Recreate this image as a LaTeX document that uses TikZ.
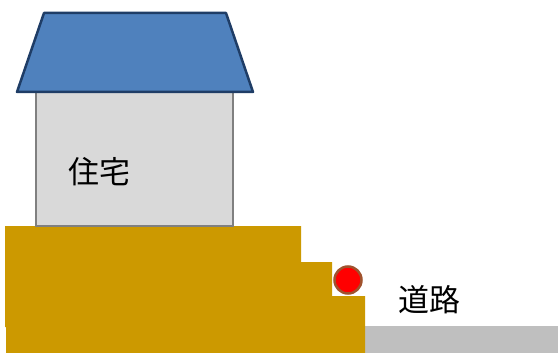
\documentclass[tikz,border=0pt]{standalone}
\usepackage{fontspec}
\newfontfamily\cjk{Noto Sans CJK JP}
\definecolor{roofblue}{HTML}{4F81BD}
\definecolor{roofedge}{HTML}{1F3D66}
\definecolor{wallgray}{HTML}{D9D9D9}
\definecolor{walledge}{HTML}{808080}
\definecolor{earth}{HTML}{CC9900}
\definecolor{roadgray}{HTML}{BFBFBF}
\definecolor{balledge}{HTML}{A0522D}
\tikzset{
  label text/.style={font=\cjk\fontsize{31}{31}\selectfont, text=black, inner sep=0pt},
}
\begin{document}
\begin{tikzpicture}[x=1pt,y=-1pt]
  \useasboundingbox[fill=white] (0,0) rectangle (558,353);
  % road
  \fill[roadgray] (365,326) rectangle (558,353);
  % stepped embankment
  \fill[earth] (5,226) -- (301,226) -- (301,262) -- (332,262) -- (332,296)
    -- (365,296) -- (365,353) -- (6,353) -- (6,327) -- (5,327) -- cycle;
  % house wall
  \draw[fill=wallgray, draw=walledge, line width=2.5pt] (36,92) rectangle (233,226);
  % roof
  \draw[fill=roofblue, draw=roofedge, line width=2.5pt, line join=round]
    (17,92) -- (44,13) -- (226,13) -- (253,92) -- cycle;
  % ball on the step
  \node[circle, minimum size=27pt, inner sep=0pt, fill=red, draw=balledge, line width=2.5pt] (ball) at (348,280) {};
  % labels
  \node[label text] (house) at (99,172) {住宅};
  \node[label text] (road) at (429,300) {道路};
\end{tikzpicture}
\end{document}
